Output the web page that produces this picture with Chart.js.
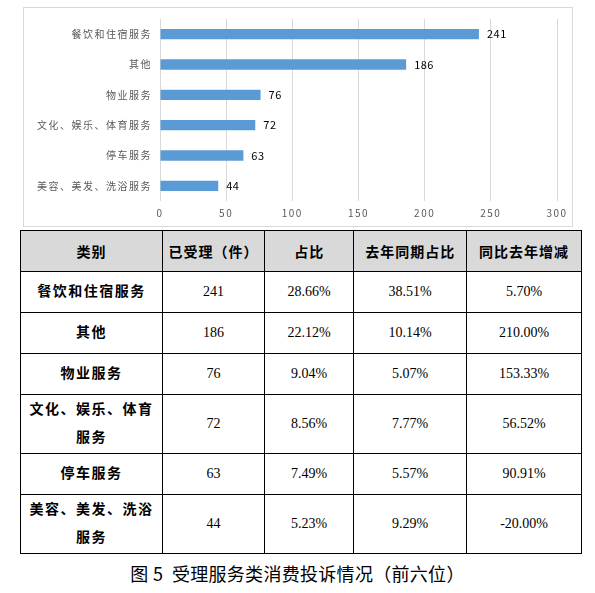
<!DOCTYPE html>
<html><head><meta charset="utf-8">
<script src="https://cdn.jsdelivr.net/npm/chart.js@4"></script>
<style>
html,body{margin:0;padding:0;background:#fff;}
body{width:595px;height:593px;position:relative;overflow:hidden;}
#box{position:absolute;left:23px;top:7px;width:548px;height:218px;border:1px solid #d9d9d9;}
#box canvas{display:block;}
table{position:absolute;left:20px;top:230px;border-collapse:collapse;width:562px;font-family:"Liberation Serif","Noto Sans CJK SC",serif;font-size:14px;color:#000;}
td,th{border:1.5px solid #000;text-align:center;padding:0;}
th{background:#d9d9d9;font-weight:bold;height:40px;letter-spacing:1px;}
td.c{font-weight:bold;letter-spacing:1.5px;line-height:28px;}
td{height:40px;}
#cap{position:absolute;left:0;width:595px;top:560px;text-align:center;font-family:"Noto Sans CJK SC",sans-serif;font-size:18px;color:#000;letter-spacing:0.3px;}
</style></head>
<body>
<div id="box"><canvas id="c" width="548" height="218"></canvas></div>
<table id="t"></table>
<div id="cap">图 5&nbsp;&nbsp;受理服务类消费投诉情况（前六位）</div>
<script>
const categories = ["餐饮和住宿服务","其他","物业服务","文化、娱乐、体育服务","停车服务","美容、美发、洗浴服务"];
const counts = [241,186,76,72,63,44];
const xTicks = [0,50,100,150,200,250,300];
const tableHeaders = ["类别","已受理（件）","占比","去年同期占比","同比去年增减"];
const tableCategories = ["餐饮和住宿服务","其他","物业服务","文化、娱乐、体育<br>服务","停车服务","美容、美发、洗浴<br>服务"];
const shares = ["28.66%","22.12%","9.04%","8.56%","7.49%","5.23%"];
const lastYearShares = ["38.51%","10.14%","5.07%","7.77%","5.57%","9.29%"];
const changes = ["5.70%","210.00%","153.33%","56.52%","90.91%","-20.00%"];

// table
const t = document.getElementById('t');
const widths = [143,102,89,113,115];
let h = '<tr>' + tableHeaders.map((x,i)=>`<th style="width:${widths[i]}px">${x}</th>`).join('') + '</tr>';
categories.forEach((c,i)=>{
  const tall = tableCategories[i].includes('<br>');
  h += `<tr style="height:${tall?59:41}px"><td class="c">${tableCategories[i]}</td><td>${counts[i]}</td><td>${shares[i]}</td><td>${lastYearShares[i]}</td><td>${changes[i]}</td></tr>`;
});
t.innerHTML = h;

const spacing = {
  id:'spacing',
  beforeDraw(chart){ chart.ctx.letterSpacing = '1.5px'; },
  afterDraw(chart){ chart.ctx.letterSpacing = '0px'; }
};
const valueLabels = {
  id:'valueLabels',
  afterDatasetsDraw(chart){
    const ctx = chart.ctx;
    ctx.save();
    ctx.letterSpacing = '0.5px';
    ctx.font = '11px "Noto Sans CJK SC", sans-serif';
    ctx.fillStyle = '#000';
    ctx.textBaseline = 'middle';
    ctx.textAlign = 'left';
    chart.getDatasetMeta(0).data.forEach((el,i)=>{
      ctx.fillText(String(chart.data.datasets[0].data[i]), el.x + 8, el.y);
    });
    ctx.restore();
  }
};

new Chart(document.getElementById('c'), {
  type:'bar',
  data:{labels:categories, datasets:[{data:counts, backgroundColor:'#5b9bd5', categoryPercentage:1, barPercentage:0.34}]},
  options:{
    indexAxis:'y', responsive:false, animation:false,
    plugins:{legend:{display:false}, tooltip:{enabled:false}},
    layout:{padding:{top:11,right:15,left:0,bottom:0}},
    scales:{
      x:{min:0,max:300,
        afterBuildTicks(s){ s.ticks = xTicks.map(v=>({value:v})); },
        afterFit(s){ s.height = 25; },
        grid:{color:'#d9d9d9',drawTicks:false,lineWidth:1},
        border:{display:false},
        ticks:{color:'#595959',font:{size:10,family:'"Noto Sans CJK SC", sans-serif'},padding:6}},
      y:{
        afterFit(s){ s.width = 136; },
        grid:{display:false}, border:{display:false},
        ticks:{color:'#595959',font:{size:10,family:'"Noto Sans CJK SC", sans-serif'},padding:0}}
    }
  },
  plugins:[spacing, valueLabels]
});
</script>
</body></html>
